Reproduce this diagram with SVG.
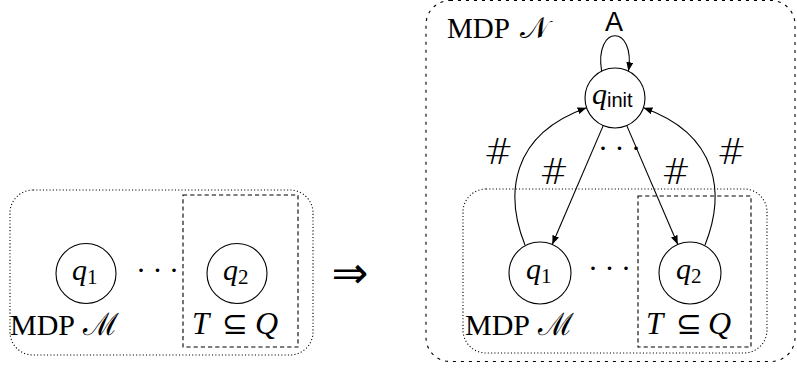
<svg xmlns="http://www.w3.org/2000/svg" width="797" height="371" viewBox="0 0 797 371">
<style>
.bg{fill:#fff}
.st{fill:#fff;stroke:#000;stroke-width:1.1}
.dotted{fill:none;stroke:#000;stroke-width:1.1;stroke-dasharray:1.1 2.2}
.dashed{fill:none;stroke:#000;stroke-width:1.1;stroke-dasharray:4.2 3}
.ldash{fill:none;stroke:#000;stroke-width:1.1;stroke-dasharray:3 5}
.edge{fill:none;stroke:#000;stroke-width:1.1}
text{fill:#000}
</style>
<defs>
<marker id="ah" markerUnits="userSpaceOnUse" markerWidth="10" markerHeight="8" refX="9" refY="3.5" orient="auto">
<path d="M0,0 L9,3.5 L0,7 Z" fill="#000"/>
</marker>
</defs>
<rect class="bg" x="0" y="0" width="797" height="371"/>

<!-- left diagram -->
<g id="boxM-left">
<rect class="dotted" x="10" y="190" width="303" height="165" rx="23" ry="23"/>
<text x="10" y="335" font-family="Liberation Serif, serif" font-size="30" textLength="65" lengthAdjust="spacingAndGlyphs">MDP</text>
<text x="83" y="335" font-family="DejaVu Serif, serif" font-size="31">ℳ</text>
</g>
<g id="boxT-left">
<rect class="dashed" x="183" y="195" width="115" height="152"/>
<text x="192" y="334" font-family="Liberation Serif, serif" font-style="italic" font-size="31">T</text>
<text x="222" y="334" font-family="DejaVu Sans, sans-serif" font-size="31">⊆</text>
<text x="255" y="334" font-family="Liberation Serif, serif" font-style="italic" font-size="32">Q</text>
</g>
<g id="q1-left">
<circle class="st" cx="86" cy="273.5" r="30"/>
<text x="72" y="280" font-family="Liberation Serif, serif" font-style="italic" font-size="30">q<tspan font-style="normal" font-size="21" dy="4">1</tspan></text>
</g>
<g id="q2-left">
<circle class="st" cx="237" cy="273.5" r="30"/>
<text x="223" y="280" font-family="Liberation Serif, serif" font-style="italic" font-size="30">q<tspan font-style="normal" font-size="21" dy="4">2</tspan></text>
</g>
<text x="136" y="280" font-family="Liberation Serif, serif" font-size="30" letter-spacing="6.5">···</text>
<text x="350" y="288" font-family="DejaVu Sans, sans-serif" font-size="44" text-anchor="middle">⇒</text>

<!-- right diagram -->
<g id="boxN">
<rect class="ldash" x="426" y="0.5" width="369" height="361" rx="24" ry="24"/>
<text x="447" y="38" font-family="Liberation Serif, serif" font-size="30" textLength="63" lengthAdjust="spacingAndGlyphs">MDP</text>
<text x="520" y="38" font-family="DejaVu Serif, serif" font-size="30">𝒩</text>
</g>
<g id="boxM-right">
<rect class="dotted" x="463" y="189" width="304" height="164" rx="23" ry="23"/>
<text x="465" y="335" font-family="Liberation Serif, serif" font-size="30" textLength="65" lengthAdjust="spacingAndGlyphs">MDP</text>
<text x="538" y="335" font-family="DejaVu Serif, serif" font-size="31">ℳ</text>
</g>
<g id="boxT-right">
<rect class="dashed" x="638" y="196" width="113" height="151"/>
<text x="646" y="334" font-family="Liberation Serif, serif" font-style="italic" font-size="31">T</text>
<text x="676" y="334" font-family="DejaVu Sans, sans-serif" font-size="31">⊆</text>
<text x="708" y="334" font-family="Liberation Serif, serif" font-style="italic" font-size="32">Q</text>
</g>
<g id="qinit">
<circle class="st" cx="615" cy="98" r="30"/>
<text x="592" y="104" font-family="Liberation Serif, serif" font-style="italic" font-size="30">q<tspan font-family="Liberation Sans, sans-serif" font-style="normal" font-size="20" dy="3">init</tspan></text>
</g>
<g id="q1-right">
<circle class="st" cx="540" cy="273" r="31"/>
<text x="526" y="279" font-family="Liberation Serif, serif" font-style="italic" font-size="30">q<tspan font-style="normal" font-size="21" dy="4">1</tspan></text>
</g>
<g id="q2-right">
<circle class="st" cx="690" cy="273" r="31"/>
<text x="676" y="279" font-family="Liberation Serif, serif" font-style="italic" font-size="30">q<tspan font-style="normal" font-size="21" dy="4">2</tspan></text>
</g>
<text x="588" y="278" font-family="Liberation Serif, serif" font-size="30" letter-spacing="6.5">···</text>

<g id="connectors">
<path class="edge" d="M601.6,71.2 C594,24 636,24 628.4,71.2" marker-end="url(#ah)"/>
<path class="edge" d="M603.2,125.6 L552.2,244.5" marker-end="url(#ah)"/>
<path class="edge" d="M626.8,125.6 L677.8,244.5" marker-end="url(#ah)"/>
<path class="edge" d="M525,245 C505,195 510,135 586.6,107.8" marker-end="url(#ah)"/>
<path class="edge" d="M705,245 C725,195 720,135 643.4,107.8" marker-end="url(#ah)"/>
<text x="614" y="31" font-family="Liberation Sans, sans-serif" font-size="27" text-anchor="middle">A</text>
<text x="498.5" y="164" font-family="DejaVu Sans, sans-serif" font-weight="200" font-size="35" text-anchor="middle">#</text>
<text x="554" y="184" font-family="DejaVu Sans, sans-serif" font-weight="200" font-size="35" text-anchor="middle">#</text>
<text x="731.5" y="164" font-family="DejaVu Sans, sans-serif" font-weight="200" font-size="35" text-anchor="middle">#</text>
<text x="676" y="184" font-family="DejaVu Sans, sans-serif" font-weight="200" font-size="35" text-anchor="middle">#</text>
<text x="598" y="158" font-family="Liberation Serif, serif" font-size="30" letter-spacing="6.5">···</text>
</g>
</svg>
